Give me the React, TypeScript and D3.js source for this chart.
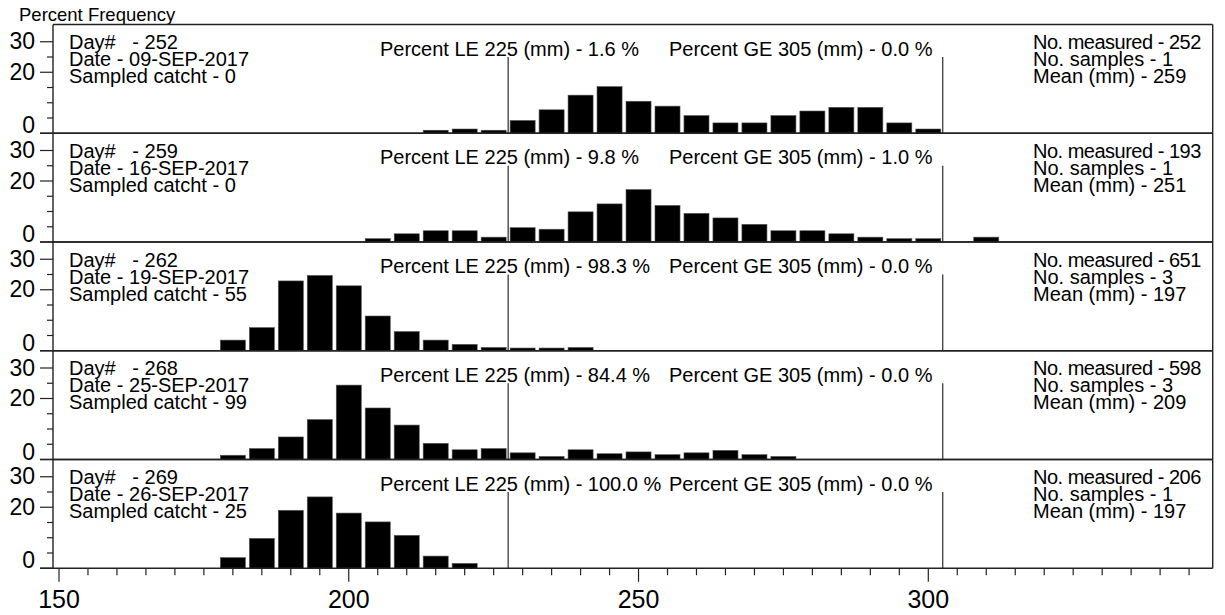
import React from "react";
import * as d3 from "d3";

// ---- data ----
const lengthBins = [180, 185, 190, 195, 200, 205, 210, 215, 220, 225, 230, 235, 240, 245, 250, 255, 260, 265, 270, 275, 280, 285, 290, 295, 300, 305, 310];

const pctDay252 = [0, 0, 0, 0, 0, 0, 0, 0.4, 0.8, 0.4, 3.6, 7.1, 11.9, 14.7, 9.9, 8.3, 5.2, 2.8, 2.8, 5.2, 6.7, 7.9, 7.9, 2.8, 0.8, 0, 0];
const pctDay259 = [0, 0, 0, 0, 0, 0.5, 2.1, 3.1, 3.1, 1.0, 4.1, 3.6, 9.3, 11.9, 16.6, 11.4, 8.8, 7.3, 5.2, 3.1, 3.1, 2.1, 1.0, 0.5, 0.5, 0, 1.0];
const pctDay262 = [2.9, 7.0, 22.3, 24.1, 20.7, 10.8, 5.7, 2.9, 1.5, 0.5, 0.3, 0.3, 0.5, 0, 0, 0, 0, 0, 0, 0, 0, 0, 0, 0, 0, 0, 0];
const pctDay268 = [0.8, 3.0, 6.8, 12.5, 23.8, 16.3, 10.7, 4.7, 2.6, 3.0, 1.6, 0.4, 2.6, 1.3, 1.9, 1.0, 1.6, 2.4, 1.0, 0.4, 0, 0, 0, 0, 0, 0, 0];
const pctDay269 = [2.9, 9.2, 18.4, 22.8, 17.5, 14.6, 10.2, 3.4, 1.0, 0, 0, 0, 0, 0, 0, 0, 0, 0, 0, 0, 0, 0, 0, 0, 0, 0, 0];

const dayNumbers = [252, 259, 262, 268, 269];
const dates = ["09-SEP-2017", "16-SEP-2017", "19-SEP-2017", "25-SEP-2017", "26-SEP-2017"];
const sampledCatch = [0, 0, 55, 99, 25];
const pctLE225 = ["1.6", "9.8", "98.3", "84.4", "100.0"];
const pctGE305 = ["0.0", "1.0", "0.0", "0.0", "0.0"];
const numMeasured = [252, 193, 651, 598, 206];
const numSamples = [1, 1, 3, 3, 1];
const meanLength = [259, 251, 197, 209, 197];

const xTickLabels = [150, 200, 250, 300];
const yTickLabels = [0, 20, 30];
const yMinorTicks = [5, 10, 15, 25];
const lowerCut = 227.5;
const upperCut = 302.5;

const panelSeries = [pctDay252, pctDay259, pctDay262, pctDay268, pctDay269];

// ---- layout ----
const W = 1225;
const H = 615;
const plotLeft = 53;
const plotRight = 1212.7;
const plotTop = 24.5;
const panelH = 108.75;
const FONT = "'Liberation Sans', Arial, sans-serif";

export default function App() {
  const x = d3.scaleLinear().domain([150, 300]).range([59, 928.3]);
  const minorX = d3.range(150, 350, 5);
  const halfBar = 2.16;
  const pre = { whiteSpace: "pre" as const };

  return (
    <svg width={W} height={H} style={{ position: "absolute", left: 0, top: 0, background: "#fff" }} fontFamily={FONT}>
      <rect x={0} y={0} width={W} height={H} fill="#fff" />
      <text x={19} y={21} fontSize={18.5} fill="#000">Percent Frequency</text>

      {panelSeries.map((series, p) => {
        const top = plotTop + p * panelH;
        const bottom = top + panelH;
        const y = d3.scaleLinear().domain([0, 30]).range([bottom, bottom - 91.5]);
        return (
          <g key={p}>
            {series.map((v, i) =>
              v > 0 ? (
                <rect
                  key={i}
                  x={x(lengthBins[i] - halfBar)}
                  y={y(v) - 1.8}
                  width={x(lengthBins[i] + halfBar) - x(lengthBins[i] - halfBar)}
                  height={bottom - y(v) + 1.8}
                  fill="#000"
                  stroke="#555"
                  strokeWidth={0.6}
                />
              ) : null
            )}
            {[lowerCut, upperCut].map((c) => (
              <line key={c} x1={x(c)} x2={x(c)} y1={y(25)} y2={bottom} stroke="#000" strokeWidth={1} />
            ))}
            {yTickLabels.map((t) => (
              <line key={"M" + t} x1={40} x2={plotLeft} y1={y(t)} y2={y(t)} stroke="#222" strokeWidth={1.2} />
            ))}
            {yMinorTicks.map((t) => (
              <line key={"m" + t} x1={47} x2={plotLeft} y1={y(t)} y2={y(t)} stroke="#222" strokeWidth={1.2} />
            ))}
            {yTickLabels.map((t) => (
              <text key={"L" + t} x={35} y={t === 0 ? bottom : y(t) + 7.5} fontSize={23} textAnchor="end" fill="#000">
                {t}
              </text>
            ))}
            <line x1={plotLeft} x2={plotRight} y1={top} y2={top} stroke="#222" strokeWidth={1.4} />
            <line x1={40} x2={plotRight} y1={bottom} y2={bottom} stroke="#222" strokeWidth={1.4} />
            <text x={69} y={top + 24.5} fontSize={20} fill="#000" style={pre}>{`Day#   - ${dayNumbers[p]}`}</text>
            <text x={69} y={top + 41.5} fontSize={20} fill="#000">{`Date - ${dates[p]}`}</text>
            <text x={69} y={top + 58.5} fontSize={20} fill="#000">{`Sampled catcht - ${sampledCatch[p]}`}</text>
            <text x={380} y={top + 31} fontSize={20} fill="#000">{`Percent LE 225 (mm) - ${pctLE225[p]} %`}</text>
            <text x={669} y={top + 31} fontSize={20} fill="#000">{`Percent GE 305 (mm) - ${pctGE305[p]} %`}</text>
            <text x={1033} y={top + 24.5} fontSize={20} fill="#000" letterSpacing={-0.5}>{`No. measured - ${numMeasured[p]}`}</text>
            <text x={1033} y={top + 41.5} fontSize={20} fill="#000">{`No. samples - ${numSamples[p]}`}</text>
            <text x={1033} y={top + 58.5} fontSize={20} fill="#000">{`Mean (mm) - ${meanLength[p]}`}</text>
          </g>
        );
      })}

      <line x1={plotLeft} x2={plotLeft} y1={plotTop} y2={plotTop + 5 * panelH} stroke="#222" strokeWidth={1.4} />
      <line x1={plotRight} x2={plotRight} y1={plotTop} y2={plotTop + 5 * panelH} stroke="#222" strokeWidth={1.4} />

      {minorX.map((t) => (
        <line
          key={t}
          x1={x(t)}
          x2={x(t)}
          y1={plotTop + 5 * panelH}
          y2={plotTop + 5 * panelH + (t % 50 === 0 ? 13.5 : 7)}
          stroke="#222"
          strokeWidth={1.2}
        />
      ))}
      {xTickLabels.map((t) => (
        <text key={t} x={x(t)} y={608} fontSize={25} textAnchor="middle" fill="#000">
          {t}
        </text>
      ))}
    </svg>
  );
}
